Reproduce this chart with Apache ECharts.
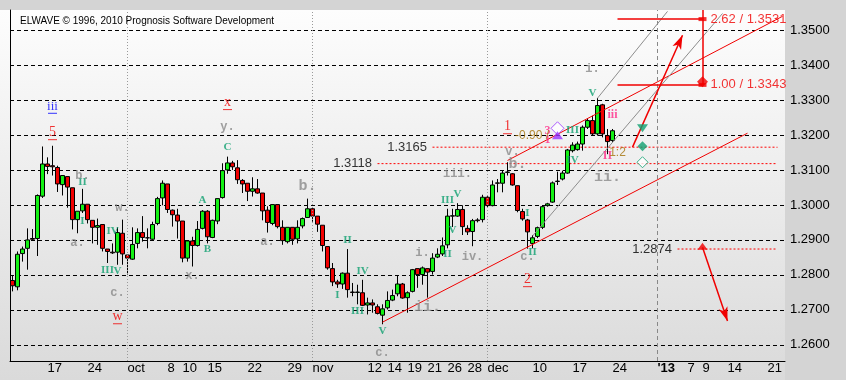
<!DOCTYPE html>
<html><head><meta charset="utf-8">
<script src="https://cdn.jsdelivr.net/npm/echarts@6/dist/echarts.min.js"></script>
<style>
html,body{margin:0;padding:0;background:#d4d4d4;overflow:hidden;}
#bg{position:absolute;left:0;top:10px;width:785px;height:370px;background:linear-gradient(#fdfdfd,#dadada);}
#chart{position:absolute;left:0;top:0;width:846px;height:380px;}
</style></head>
<body><div id="bg"></div><div id="chart"></div>
<script>
// ---------- data ----------
const slotCount = 155;
const tickIdx  = [7,15,23,31,34,39,47,55,60,71,75,79,83,87,91,95,104,112,120,129,135,138,143,151];
const tickText = ['17','24','oct','8','10','15','22','29','nov','12','14','19','21','26','28','dec','10','17','24',"'13",'7','9','14','21'];
const priceLevels = [1.26,1.27,1.28,1.29,1.30,1.31,1.32,1.33,1.34,1.35];
const monthSeparators = [23,60,95,129];

const opens  = [1.2784,1.2766,1.2861,1.2876,1.2904,1.2904,1.3025,1.3117,1.3112,1.3107,1.3058,1.3081,1.3049,1.2958,1.2983,1.3002,1.2956,1.2936,1.2944,1.2874,1.2865,1.2865,1.2919,1.2857,1.2845,1.2890,1.2921,1.2906,1.2902,1.2947,1.3020,1.3060,1.2985,1.2971,1.2954,1.2848,1.2897,1.2884,1.2933,1.2982,1.2907,1.2954,1.3021,1.3100,1.3120,1.3106,1.3070,1.3062,1.3039,1.3046,1.3034,1.2985,1.2947,1.3001,1.2936,1.2895,1.2936,1.2903,1.2940,1.2964,1.2989,1.2968,1.2942,1.2881,1.2818,1.2780,1.2774,1.2805,1.2751,1.2750,1.2749,1.2714,1.2720,1.2709,1.2685,1.2706,1.2728,1.2746,1.2774,1.2735,1.2753,1.2818,1.2801,1.2818,1.2810,1.2851,1.2860,1.2886,1.2968,1.2968,1.2987,1.2933,1.2924,1.2957,1.2958,1.3022,1.2998,1.3063,1.3062,1.3093,1.3089,1.3055,1.2981,1.2957,1.2890,1.2910,1.2936,1.2998,1.3008,1.3067,1.3074,1.3091,1.3155,1.3158,1.3174,1.3222,1.3241,1.3203,1.3286,1.3198,1.3184];
const closes = [1.2769,1.2859,1.2874,1.2900,1.2902,1.3027,1.3117,1.3110,1.3109,1.3060,1.3084,1.3051,1.2958,1.2982,1.3002,1.2958,1.2936,1.2941,1.2876,1.2867,1.2863,1.2921,1.2860,1.2848,1.2887,1.2921,1.2907,1.2906,1.2944,1.3018,1.3062,1.2987,1.2972,1.2954,1.2848,1.2897,1.2884,1.2930,1.2982,1.2909,1.2956,1.3018,1.3098,1.3120,1.3109,1.3072,1.3060,1.3039,1.3046,1.3034,1.2983,1.2950,1.3001,1.2938,1.2898,1.2936,1.2902,1.2936,1.2961,1.2989,1.2968,1.2945,1.2884,1.2820,1.2780,1.2774,1.2805,1.2758,1.2750,1.2751,1.2713,1.2720,1.2714,1.2690,1.2703,1.2727,1.2741,1.2774,1.2734,1.2749,1.2815,1.2801,1.2820,1.2808,1.2848,1.2859,1.2883,1.2968,1.2969,1.2987,1.2938,1.2923,1.2955,1.2955,1.3022,1.2998,1.3057,1.3062,1.3091,1.3094,1.3057,1.2984,1.2960,1.2923,1.2906,1.2935,1.2995,1.3003,1.3063,1.3068,1.3091,1.3157,1.3171,1.3174,1.3222,1.3241,1.3203,1.3284,1.3203,1.3181,1.3212];
const highs  = [1.2798,1.2867,1.2881,1.2933,1.2931,1.3030,1.3167,1.3136,1.3169,1.3112,1.3084,1.3081,1.3049,1.2982,1.3046,1.3002,1.2956,1.2961,1.2944,1.2874,1.2890,1.2936,1.2958,1.2857,1.2936,1.2933,1.2968,1.2933,1.2952,1.3023,1.3070,1.3060,1.2987,1.2989,1.2954,1.2897,1.2909,1.2954,1.2985,1.2985,1.2958,1.3018,1.3119,1.3138,1.3126,1.3128,1.3074,1.3062,1.3079,1.3074,1.3034,1.2996,1.3001,1.3001,1.2956,1.2936,1.2936,1.2956,1.2964,1.3018,1.2992,1.2968,1.2942,1.2881,1.2834,1.2786,1.2807,1.2874,1.2777,1.2772,1.2786,1.2735,1.2730,1.2716,1.2716,1.2753,1.2758,1.2798,1.2777,1.2753,1.2817,1.2818,1.2824,1.2818,1.2862,1.2876,1.2907,1.2989,1.2989,1.3005,1.2999,1.2942,1.2960,1.2962,1.3029,1.3025,1.3070,1.3074,1.3098,1.3122,1.3091,1.3055,1.2989,1.2960,1.2914,1.2938,1.2998,1.3006,1.3067,1.3095,1.3098,1.3160,1.3179,1.3181,1.3227,1.3248,1.3255,1.3305,1.3289,1.3217,1.3217];
const lows   = [1.2753,1.2756,1.2838,1.2815,1.2900,1.2854,1.3020,1.3088,1.3084,1.3037,1.3027,1.2992,1.2930,1.2919,1.2977,1.2947,1.2890,1.2886,1.2867,1.2834,1.2860,1.2829,1.2829,1.2801,1.2843,1.2876,1.2895,1.2876,1.2900,1.2942,1.2999,1.2977,1.2938,1.2904,1.2836,1.2838,1.2824,1.2881,1.2930,1.2890,1.2905,1.2945,1.3018,1.3089,1.3100,1.3060,1.3034,1.3011,1.3024,1.3032,1.2956,1.2921,1.2942,1.2933,1.2886,1.2890,1.2886,1.2890,1.2933,1.2964,1.2952,1.2923,1.2867,1.2815,1.2768,1.2763,1.2760,1.2735,1.2739,1.2716,1.2711,1.2687,1.2692,1.2687,1.2659,1.2701,1.2725,1.2739,1.2732,1.2692,1.2750,1.2763,1.2772,1.2735,1.2801,1.2848,1.2854,1.2876,1.2937,1.2966,1.2914,1.2914,1.2882,1.2950,1.2950,1.2993,1.2996,1.3036,1.3036,1.3084,1.3055,1.2979,1.2955,1.2875,1.2876,1.2905,1.2931,1.2995,1.3006,1.3057,1.3070,1.3089,1.3150,1.3155,1.3155,1.3217,1.3198,1.3198,1.3193,1.3145,1.3179];

// annotation levels and lines (index, price)
const dottedLevels = [[84,153,1.3165],[73,153,1.3118],[133,153,1.2874]];
const redTrend   = [[74,1.2665],[147,1.3205]];
const redChannel = [[99,1.3127],[154,1.3539]];
const grayFan1   = [[117,1.3305],[131,1.3553]];
const grayFan2   = [[104,1.2911],[142,1.3547]];
const arrowUp    = [[124,1.3165],[134,1.3485]];
const arrowDown  = [[138,1.2879],[143,1.2668]];
const targetLevels = [[121,138,1.3531,'2.62 / 1.3531'],[121,138,1.3343,'1.00 / 1.3343']];
const targetStem = [[138,1.3557],[138,1.3343]];

const greenLabels = [[14,1.3065,'II'],[14,1.2954,'I'],[20,1.2925,'IV'],[19,1.2814,'III'],[21,1.2811,'V'],
  [43,1.3165,'C'],[38,1.3014,'A'],[39,1.2874,'B'],[67,1.2899,'II'],[65,1.2742,'I'],[70,1.2811,'IV'],
  [69,1.2697,'III'],[74,1.2639,'V'],[87,1.3014,'III'],[89,1.3031,'V'],[88,1.2928,'V'],[87,1.2859,'II'],
  [103,1.2977,'I'],[104,1.2865,'II'],[112,1.3128,'IV'],[112,1.3214,'III'],[116,1.3319,'V']];
const grayLabels = [[14,1.3082,'b.'],[13,1.2891,'a.'],[22,1.2991,'w.'],[21,1.2748,'c.'],[43,1.3222,'y.'],
  [36,1.2797,'x.'],[51,1.2894,'a.'],[74,1.2577,'c.'],[82,1.2862,'i.'],[89,1.3088,'iii.'],[92,1.2851,'iv.'],
  [100,1.3151,'v.'],[103,1.2851,'c.'],[116,1.3388,'i.']];
const grayLabelsBig = [[59,1.3054,'b.'],[83,1.2708,'ii.'],[101,1.3117,'b.'],[119,1.3079,'ii.']];
const redLabels = [[8,1.3205,'5'],[43,1.3291,'x'],[21,1.2679,'w'],[99,1.3222,'1'],[103,1.2785,'2']];
const blueLabels = [[8,1.3279,'iii']];
const pinkLabels = [[107,1.3211,'3'],[107,1.3187,'1'],[120,1.3256,'iii'],[119,1.3139,'II']];
const brownLabels = [[121,1.3148,'1:2']];
const brownNote = [[100,1.3197,'-0.90 /']];
const greenTriangle = [[126,1.3219]];
const greenDiamondFilled = [[126,1.3168]];
const greenDiamondHollow = [[126,1.3122]];
const purpleDiamond = [[109,1.3219]];
const purpleHourglass = [[109,1.3199]];
const redTriangle = [[138,1.2882]];

// ---------- build ----------
const categories = [];
for (let i = 0; i < slotCount; i++) categories.push(String(i));
const tickMap = {};
tickIdx.forEach((k, j) => { tickMap[k] = tickText[j]; });
const isTick = (i) => tickMap[i] !== undefined;

const ohlc = opens.map((o, i) => [o, closes[i], lows[i], highs[i]]);

const RED = '#f00000', TEAL = '#10a070', GRAY = '#8a8a8a';
const seg = (a, b, style, extra) => [Object.assign({coord: a}, extra && extra[0] || {}), Object.assign({coord: b, lineStyle: style}, extra && extra[1] || {})];

function textSeries(data, labelOpt) {
  return {
    type: 'scatter', symbolSize: 1, itemStyle: {color: 'rgba(0,0,0,0)'}, silent: true, z: 5,
    data: data.map(d => [d[0], d[1], d[2]]),
    label: Object.assign({show: true, position: 'inside', formatter: p => p.data[2]}, labelOpt)
  };
}
function markerSeries(data, opt) {
  return Object.assign({type: 'scatter', silent: true, z: 6, data: data.map(d => [d[0], d[1]])}, opt);
}

const dottedSeries = dottedLevels.map(d => ({
  type: 'line', silent: true, symbol: 'none', z: 2,
  data: [[d[0], d[2]], [d[1], d[2]]],
  lineStyle: {color: '#ff0000', type: [2, 2], width: 1},
  itemStyle: {color: '#ff0000'},
  label: {show: false}
}));

const option = {
  animation: false,
  backgroundColor: 'transparent',
  title: {text: 'ELWAVE \u00A9 1996, 2010 Prognosis Software Development', left: 15, top: 11,
    textStyle: {fontSize: 10, fontWeight: 'normal', color: '#000', fontFamily: 'Liberation Sans'}},
  grid: {left: 10, right: 61, top: 10, bottom: 19},
  xAxis: [{
    type: 'category', data: categories, boundaryGap: true, position: 'bottom',
    axisLine: {lineStyle: {color: '#000', width: 1}},
    axisTick: {interval: (i) => isTick(i), length: 14, lineStyle: {color: '#000'}},
    axisLabel: {interval: (i) => isTick(i), formatter: (v, i) => tickMap[i] === "'13" ? '{b|\'13}' : (tickMap[i] || ''),
      align: 'left', margin: 1, color: '#000', fontSize: 13, fontFamily: 'Liberation Sans',
      rich: {b: {fontWeight: 'bold', fontSize: 13, fontFamily: 'Liberation Sans', color: '#000'}}},
    splitLine: {show: false}
  }, {
    type: 'category', data: categories, boundaryGap: true, position: 'bottom', gridIndex: 0,
    axisLine: {show: false},
    axisTick: {interval: 0, length: 3, lineStyle: {color: '#000'}},
    axisLabel: {show: false}, splitLine: {show: false}
  }],
  yAxis: {type: 'value', min: 1.2554, max: 1.3557, position: 'left', scale: true,
    axisLine: {show: true, lineStyle: {color: '#000'}}, axisTick: {show: false},
    axisLabel: {show: false}, splitLine: {show: false}},
  series: [
    {
      type: 'candlestick', name: 'EURUSD', data: ohlc, barWidth: 4, z: 3,
      itemStyle: {color: '#14f014', color0: RED, borderColor: '#000', borderColor0: '#000', borderWidth: 1},
      markLine: {
        silent: true, symbol: ['none', 'none'], z: 1,
        lineStyle: {color: '#000', type: [4, 3], width: 1},
        label: {position: 'end', distance: 5, color: '#000', fontSize: 13, fontFamily: 'Liberation Sans',
          formatter: p => Number(p.value).toFixed(4)},
        data: priceLevels.map(v => ({yAxis: v}))
      }
    },
    {
      type: 'line', data: [], silent: true,
      markLine: {
        silent: true, symbol: ['none', 'none'],
        label: {show: false},
        lineStyle: {color: '#9a9a9a', type: [1, 2], width: 1},
        data: monthSeparators.map((k, j) => ({xAxis: String(k), lineStyle: j === 3 ? {color: '#888', type: [4, 3]} : undefined}))
      }
    },
    ...dottedSeries,
    // labels of dotted levels
    markerSeries(dottedLevels.map(d => [d[0], d[2]]), {
      symbolSize: 1, itemStyle: {color: 'rgba(0,0,0,0)'},
      label: {show: true, position: 'left', distance: 5, color: '#000', fontSize: 13, fontFamily: 'Liberation Sans',
        formatter: p => dottedLevels[p.dataIndex][2].toFixed(4)}
    }),
    {
      type: 'line', data: [], silent: true,
      markLine: {
        silent: true, symbol: ['none', 'none'], label: {show: false},
        lineStyle: {color: RED, type: 'solid', width: 1},
        data: [
          seg(redTrend[0], redTrend[1], {color: RED, width: 1}),
          seg(redChannel[0], redChannel[1], {color: RED, width: 1}),
          seg(grayFan1[0], grayFan1[1], {color: '#8c8c8c', width: 1}),
          seg(grayFan2[0], grayFan2[1], {color: '#8c8c8c', width: 1}),
          seg(targetStem[0], targetStem[1], {color: RED, width: 1.5}),
          ...targetLevels.map(t => seg([t[0], t[2]], [t[1], t[2]], {color: RED, width: 1.5})),
          seg(arrowUp[0], arrowUp[1], {color: RED, width: 1.5}, [{symbol: 'none'}, {symbol: 'arrow', symbolSize: [7, 14]}]),
          seg(arrowDown[0], arrowDown[1], {color: RED, width: 1.5}, [{symbol: 'none'}, {symbol: 'arrow', symbolSize: [7, 14]}])
        ]
      }
    },
    // target labels
    markerSeries(targetLevels.map(t => [t[1], t[2]]), {
      symbol: 'rect', symbolSize: [8, 4], itemStyle: {color: RED},
      label: {show: true, position: 'right', distance: 4, color: RED, fontSize: 13, fontFamily: 'Liberation Sans',
        formatter: p => targetLevels[p.dataIndex][3]}
    }),
    markerSeries([[138, 1.3352]], {symbol: 'diamond', symbolSize: 11, itemStyle: {color: RED}}),
    markerSeries(redTriangle, {symbol: 'triangle', symbolSize: [10, 7], itemStyle: {color: RED}}),
    markerSeries(greenTriangle, {symbol: 'triangle', symbolRotate: 180, symbolSize: [11, 8], itemStyle: {color: TEAL}}),
    markerSeries(greenDiamondFilled, {symbol: 'diamond', symbolSize: 10, itemStyle: {color: TEAL}}),
    markerSeries(greenDiamondHollow, {symbol: 'diamond', symbolSize: 11, itemStyle: {color: '#fff', borderColor: TEAL, borderWidth: 1}}),
    markerSeries(purpleDiamond, {symbol: 'diamond', symbolSize: 13, itemStyle: {color: '#fff', borderColor: '#9933ff', borderWidth: 1}}),
    markerSeries(purpleHourglass, {symbol: 'triangle', symbolSize: [11, 8], itemStyle: {color: '#9933ff'}}),
    // wave labels
    textSeries(greenLabels, {color: TEAL, fontSize: 11, fontWeight: 'bold', fontFamily: 'Liberation Serif'}),
    textSeries(grayLabels, {color: GRAY, fontSize: 12, fontWeight: 'bold', fontFamily: 'Liberation Mono'}),
    textSeries(grayLabelsBig, {color: GRAY, fontSize: 15, fontWeight: 'bold', fontFamily: 'Liberation Mono'}),
    textSeries(blueLabels, {color: '#0000ff', fontSize: 13, fontFamily: 'Liberation Serif',
      formatter: p => '{t|' + p.data[2] + '}\n{u| }',
      rich: {t: {color: '#0000ff', fontSize: 13, fontFamily: 'Liberation Serif', lineHeight: 12}, u: {width: 9, height: 1, lineHeight: 2, fontSize: 1, backgroundColor: '#0000ff'}}}),
    textSeries(redLabels, {color: RED,
      formatter: p => '{t|' + p.data[2] + '}\n{u| }',
      rich: {t: {color: RED, fontSize: 14, fontFamily: 'Liberation Serif', lineHeight: 13}, u: {width: 9, height: 1, lineHeight: 2, fontSize: 1, backgroundColor: RED}}}),
    textSeries(pinkLabels, {color: '#ff2a8a', fontSize: 12, fontFamily: 'Liberation Serif', fontWeight: 'bold'}),
    textSeries(brownLabels, {color: '#a47208', fontSize: 12, fontFamily: 'Liberation Sans'}),
    textSeries(brownNote, {color: '#a47208', fontSize: 12, fontFamily: 'Liberation Sans', position: 'right', distance: 2})
  ]
};

const chart = echarts.init(document.getElementById('chart'), null, {renderer: 'canvas'});
chart.setOption(option);
</script></body></html>
